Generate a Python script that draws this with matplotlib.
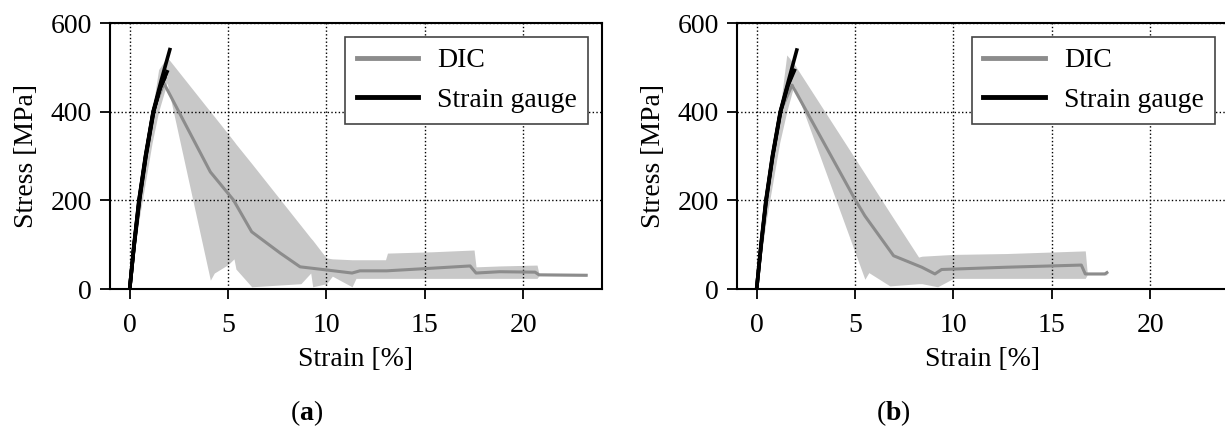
import matplotlib
matplotlib.use('Agg')
import matplotlib.pyplot as plt

# (a) DIC mean curve
a_mean_x = [0, 0.45, 1.18, 1.74, 4.1, 5.27, 6.2, 7.65, 8.66, 10.0, 11.3, 11.7, 13.06, 15.4, 17.3, 17.6, 18.8, 20.6, 20.8, 23.2]
a_mean_y = [0, 200, 400, 464, 264, 201, 129, 81, 50, 43, 36, 41, 41, 47, 52, 36, 39, 38, 32, 31]
# (a) DIC scatter band
a_band_x = [0, 0.45, 1.14, 1.47, 1.9, 4.1, 4.3, 5.0, 5.3, 5.4, 6.2, 8.7, 9.2, 9.3, 9.8, 10.0, 10.3, 11.3, 11.5, 13.0, 13.1, 15.4, 17.5, 17.6, 18.8, 20.7, 20.8, 23.2]
a_band_hi = [0, 200, 400, 495, 523, 400, 389, 350, 333, 327, 283, 143, 115, 110, 81, 70, 68, 66, 66, 66, 81, 84, 88, 50, 52, 54, 34, 33]
a_band_lo = [0, 150, 330, 400, 465, 20, 36, 55, 68, 45, 5, 12, 36, 5, 10, 12, 29, 5, 24, 24, 24, 24, 24, 24, 24, 24, 30, 29]
# (a) strain gauges
a_sg_x = [[0, 0.22, 0.47, 0.80, 1.19, 1.60, 2.04],
          [0, 0.22, 0.48, 0.81, 1.20, 1.58, 1.90],
          [0, 0.23, 0.49, 0.82, 1.21, 1.55, 1.82],
          [0, 0.23, 0.50, 0.83, 1.22, 1.53, 1.77]]
a_sg_y = [[0, 100, 200, 300, 400, 470, 540],
          [0, 100, 200, 300, 400, 458, 490],
          [0, 100, 200, 300, 400, 455, 483],
          [0, 100, 200, 300, 400, 452, 475]]

# (b) DIC mean curve
b_mean_x = [0, 0.47, 1.2, 1.8, 5.0, 5.5, 6.96, 8.4, 9.06, 9.4, 12.6, 16.5, 16.7, 17.7, 17.8]
b_mean_y = [0, 200, 400, 460, 202, 165, 75, 49, 34, 44, 49, 54, 34, 34, 37]
# (b) DIC scatter band
b_band_x = [0, 0.47, 1.17, 1.53, 1.9, 5.5, 5.7, 6.77, 8.23, 8.4, 9.2, 10.0, 12.7, 16.7, 16.8, 17.8]
b_band_hi = [0, 200, 400, 528, 508, 260, 246, 172, 72, 74, 76, 78, 80, 86, 36, 38]
b_band_lo = [0, 150, 330, 400, 460, 22, 37, 7, 12, 12, 5, 24, 24, 24, 32, 32]
# (b) strain gauges
b_sg_x = [[0, 0.22, 0.47, 0.80, 1.20, 1.62, 2.04],
          [0, 0.23, 0.48, 0.81, 1.21, 1.60, 1.92],
          [0, 0.23, 0.49, 0.82, 1.22, 1.55, 1.80]]
b_sg_y = [[0, 100, 200, 300, 400, 470, 539],
          [0, 100, 200, 300, 400, 460, 493],
          [0, 100, 200, 300, 400, 455, 485]]

x_ticks = [0, 5, 10, 15, 20]
y_ticks = [0, 200, 400, 600]

plt.rcParams['font.family'] = ['Liberation Serif', 'DejaVu Serif']
plt.rcParams['font.size'] = 20
plt.rcParams['mathtext.fontset'] = 'custom'
plt.rcParams['mathtext.rm'] = 'Liberation Serif'
plt.rcParams['mathtext.bf'] = 'Liberation Serif:bold'

fig = plt.figure(figsize=(12.25, 4.3), dpi=100)
ax_a = fig.add_axes([0.0898, 0.3279, 0.4016, 0.6186])
ax_b = fig.add_axes([0.6016, 0.3279, 0.4016, 0.6186])

panels = [
    (ax_a, a_mean_x, a_mean_y, a_band_x, a_band_lo, a_band_hi, a_sg_x, a_sg_y),
    (ax_b, b_mean_x, b_mean_y, b_band_x, b_band_lo, b_band_hi, b_sg_x, b_sg_y),
]

for ax, mx, my, bx, blo, bhi, sgx, sgy in panels:
    ax.fill_between(bx, blo, bhi, color='#c8c8c8', lw=0, zorder=0.4)
    ax.plot(mx, my, color='#8c8c8c', lw=2.2, label='DIC', zorder=2)
    for i, (sx, sy) in enumerate(zip(sgx, sgy)):
        ax.plot(sx, sy, color='black', lw=2.6, zorder=3,
                label='Strain gauge' if i == 0 else None)
    ax.set_xlim(-1, 24)
    ax.set_ylim(0, 600)
    ax.set_xticks(x_ticks)
    ax.set_yticks(y_ticks)
    ax.set_axisbelow(True)
    ax.grid(True, ls=':', color='black', lw=1)
    ax.tick_params(axis='x', direction='out', length=7, width=1.3, pad=10)
    ax.tick_params(axis='y', direction='out', length=7, width=1.3, pad=6)
    for s in ax.spines.values():
        s.set_linewidth(1.5)
    ax.set_xlabel('Strain [%]', labelpad=7)
    ax.set_ylabel('Stress [MPa]', labelpad=8)
    leg = ax.legend(loc='upper right', fancybox=False, framealpha=1,
                    edgecolor='#444444', handlelength=2.2, handletextpad=0.7,
                    labelspacing=0.5, borderaxespad=0.5, borderpad=0.4)
    leg.get_frame().set_linewidth(1.2)
    for ln in leg.get_lines():
        ln.set_linewidth(3.5)

fig.text(307 / 1225, 1 - 413 / 430, r'($\mathbf{a}$)', ha='center', va='center')
fig.text(893 / 1225, 1 - 413 / 430, r'($\mathbf{b}$)', ha='center', va='center')

fig.savefig('out.png', dpi=100)
